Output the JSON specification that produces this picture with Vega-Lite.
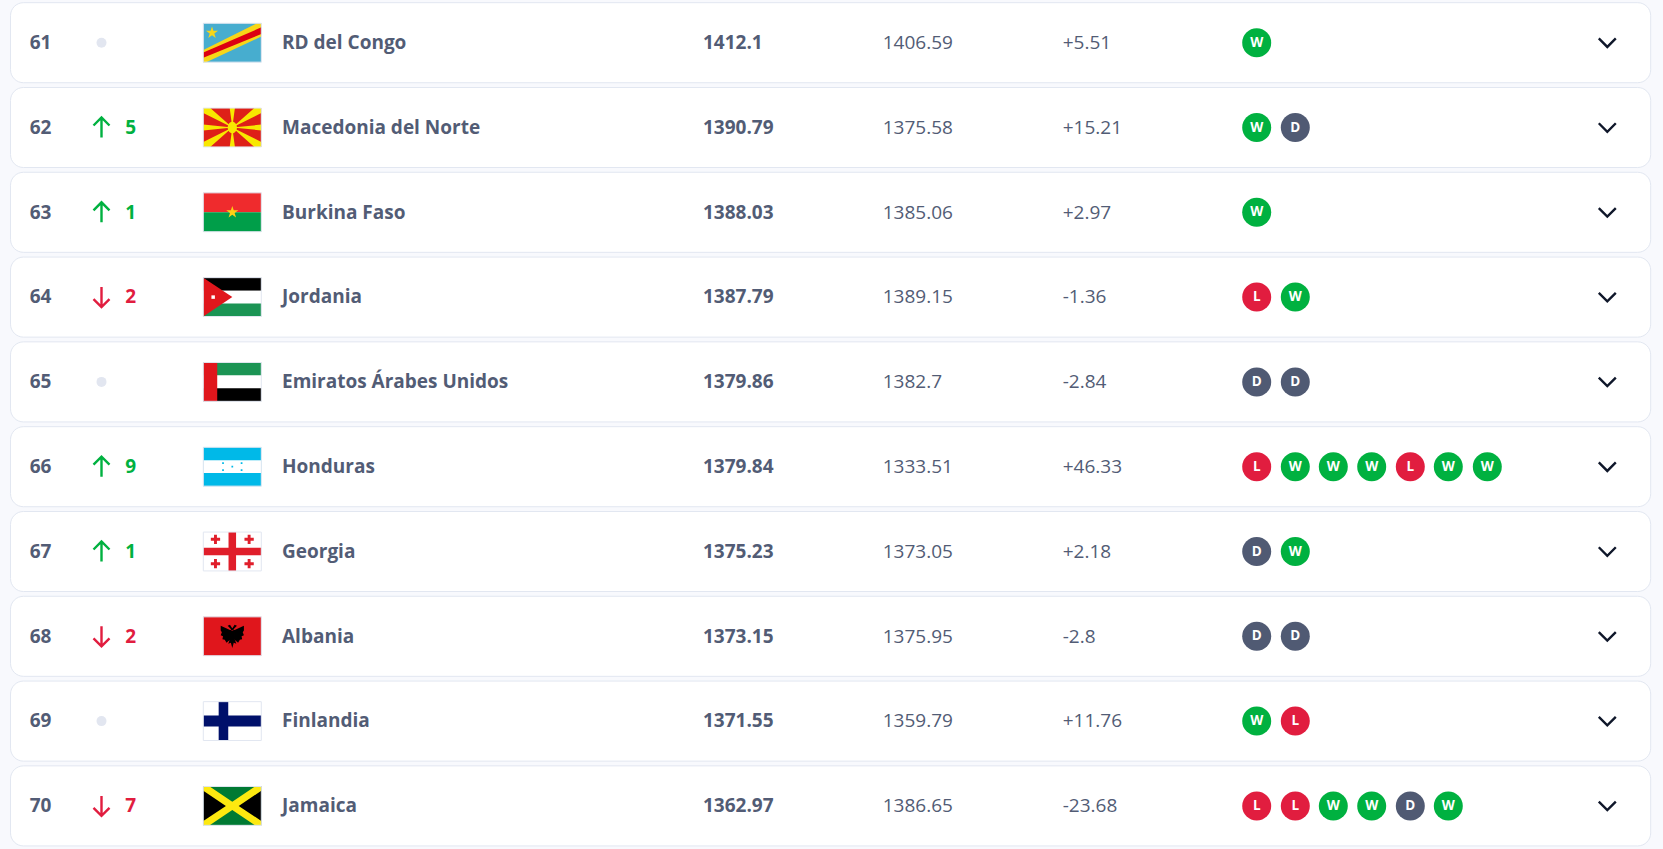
{
  "$schema": "https://vega.github.io/schema/vega-lite/v6.json",
  "description": "FIFA style ranking table, places 61 to 70",
  "width": 1663,
  "height": 849,
  "autosize": {"type": "fit", "contains": "padding"},
  "padding": 0,
  "background": "#f8f9fd",
  "config": {"view": {"stroke": null}, "text": {"font": "Open Sans"}},
  "datasets": {
    "teams": [
      {"rank": 61, "team": "RD del Congo", "total": "1412.1", "prev": "1406.59", "change": "+5.51", "move": 0, "direction": "same"},
      {"rank": 62, "team": "Macedonia del Norte", "total": "1390.79", "prev": "1375.58", "change": "+15.21", "move": 5, "direction": "up"},
      {"rank": 63, "team": "Burkina Faso", "total": "1388.03", "prev": "1385.06", "change": "+2.97", "move": 1, "direction": "up"},
      {"rank": 64, "team": "Jordania", "total": "1387.79", "prev": "1389.15", "change": "-1.36", "move": 2, "direction": "down"},
      {"rank": 65, "team": "Emiratos Árabes Unidos", "total": "1379.86", "prev": "1382.7", "change": "-2.84", "move": 0, "direction": "same"},
      {"rank": 66, "team": "Honduras", "total": "1379.84", "prev": "1333.51", "change": "+46.33", "move": 9, "direction": "up"},
      {"rank": 67, "team": "Georgia", "total": "1375.23", "prev": "1373.05", "change": "+2.18", "move": 1, "direction": "up"},
      {"rank": 68, "team": "Albania", "total": "1373.15", "prev": "1375.95", "change": "-2.8", "move": 2, "direction": "down"},
      {"rank": 69, "team": "Finlandia", "total": "1371.55", "prev": "1359.79", "change": "+11.76", "move": 0, "direction": "same"},
      {"rank": 70, "team": "Jamaica", "total": "1362.97", "prev": "1386.65", "change": "-23.68", "move": 7, "direction": "down"}
    ],
    "results": [
      {"rank": 61, "game": 1, "result": "W"},
      {"rank": 62, "game": 1, "result": "W"}, {"rank": 62, "game": 2, "result": "D"},
      {"rank": 63, "game": 1, "result": "W"},
      {"rank": 64, "game": 1, "result": "L"}, {"rank": 64, "game": 2, "result": "W"},
      {"rank": 65, "game": 1, "result": "D"}, {"rank": 65, "game": 2, "result": "D"},
      {"rank": 66, "game": 1, "result": "L"}, {"rank": 66, "game": 2, "result": "W"}, {"rank": 66, "game": 3, "result": "W"}, {"rank": 66, "game": 4, "result": "W"}, {"rank": 66, "game": 5, "result": "L"}, {"rank": 66, "game": 6, "result": "W"}, {"rank": 66, "game": 7, "result": "W"},
      {"rank": 67, "game": 1, "result": "D"}, {"rank": 67, "game": 2, "result": "W"},
      {"rank": 68, "game": 1, "result": "D"}, {"rank": 68, "game": 2, "result": "D"},
      {"rank": 69, "game": 1, "result": "W"}, {"rank": 69, "game": 2, "result": "L"},
      {"rank": 70, "game": 1, "result": "L"}, {"rank": 70, "game": 2, "result": "L"}, {"rank": 70, "game": 3, "result": "W"}, {"rank": 70, "game": 4, "result": "W"}, {"rank": 70, "game": 5, "result": "D"}, {"rank": 70, "game": 6, "result": "W"}
    ],
    "flagParts": [
      {"rank": 61, "part": "cod_field"}, {"rank": 61, "part": "cod_edge"}, {"rank": 61, "part": "cod_band"}, {"rank": 61, "part": "cod_star"},
      {"rank": 62, "part": "mkd_field"}, {"rank": 62, "part": "mkd_rays"}, {"rank": 62, "part": "mkd_disc"},
      {"rank": 63, "part": "bfa_top"}, {"rank": 63, "part": "bfa_bottom"}, {"rank": 63, "part": "bfa_star"},
      {"rank": 64, "part": "jor_black"}, {"rank": 64, "part": "jor_white"}, {"rank": 64, "part": "jor_green"}, {"rank": 64, "part": "jor_triangle"}, {"rank": 64, "part": "jor_star"},
      {"rank": 65, "part": "uae_green"}, {"rank": 65, "part": "uae_white"}, {"rank": 65, "part": "uae_black"}, {"rank": 65, "part": "uae_red"},
      {"rank": 66, "part": "hon_blue"}, {"rank": 66, "part": "hon_white"}, {"rank": 66, "part": "hon_stars"},
      {"rank": 67, "part": "geo_field"}, {"rank": 67, "part": "geo_crosses"},
      {"rank": 68, "part": "alb_field"}, {"rank": 68, "part": "alb_eagle"},
      {"rank": 69, "part": "fin_field"}, {"rank": 69, "part": "fin_cross"},
      {"rank": 70, "part": "jam_green"}, {"rank": 70, "part": "jam_black"}, {"rank": 70, "part": "jam_saltire"}
    ]
  },
  "encoding": {
    "y": {
      "field": "rank",
      "type": "ordinal",
      "axis": null,
      "scale": {"type": "band", "domain": [61, 62, 63, 64, 65, 66, 67, 68, 69, 70], "range": [0.3, 848.3], "paddingInner": 0.056, "paddingOuter": 0.028}
    }
  },
  "layer": [
    {
      "data": {"name": "teams"},
      "mark": {"type": "rect", "fill": "#ffffff", "stroke": "#e2e7f1", "strokeWidth": 1, "cornerRadius": 13},
      "encoding": {
        "x": {"datum": -8, "type": "quantitative", "axis": null, "scale": {"domain": [-8, -7, -6, -5, -4, -3, -2, -1, 0, 1, 2, 3, 4, 5, 6, 7, 8, 9], "range": [10.5, 29.7, 101.5, 125.2, 232.3, 282, 703, 882.7, 1062.7, 1256.7, 1295.3, 1333.3, 1371.7, 1410.3, 1448.3, 1487.3, 1607.3, 1650.7]}},
        "x2": {"datum": 9}
      }
    },
    {
      "data": {"name": "teams"},
      "mark": {"type": "text", "align": "left", "fontSize": 19, "fontWeight": 700, "color": "#525c75", "dy": 0.2},
      "encoding": {
        "x": {"datum": -7, "type": "quantitative", "axis": null, "scale": {"domain": [-8, -7, -6, -5, -4, -3, -2, -1, 0, 1, 2, 3, 4, 5, 6, 7, 8, 9], "range": [10.5, 29.7, 101.5, 125.2, 232.3, 282, 703, 882.7, 1062.7, 1256.7, 1295.3, 1333.3, 1371.7, 1410.3, 1448.3, 1487.3, 1607.3, 1650.7]}},
        "text": {"field": "rank", "type": "nominal"}
      }
    },
    {
      "data": {"name": "teams"},
      "transform": [{"filter": "datum.direction === 'same'"}],
      "mark": {"type": "point", "shape": "circle", "filled": true, "size": 100, "opacity": 1, "color": "#e2e6f0"},
      "encoding": {
        "x": {"datum": -6, "type": "quantitative", "axis": null, "scale": {"domain": [-8, -7, -6, -5, -4, -3, -2, -1, 0, 1, 2, 3, 4, 5, 6, 7, 8, 9], "range": [10.5, 29.7, 101.5, 125.2, 232.3, 282, 703, 882.7, 1062.7, 1256.7, 1295.3, 1333.3, 1371.7, 1410.3, 1448.3, 1487.3, 1607.3, 1650.7]}}
      }
    },
    {
      "data": {"name": "teams"},
      "transform": [{"filter": "datum.direction !== 'same'"}],
      "mark": {"type": "point", "filled": false, "size": 400, "opacity": 1, "strokeWidth": 2.4, "fill": null},
      "encoding": {
        "x": {"datum": -6, "type": "quantitative", "axis": null, "scale": {"domain": [-8, -7, -6, -5, -4, -3, -2, -1, 0, 1, 2, 3, 4, 5, 6, 7, 8, 9], "range": [10.5, 29.7, 101.5, 125.2, 232.3, 282, 703, 882.7, 1062.7, 1256.7, 1295.3, 1333.3, 1371.7, 1410.3, 1448.3, 1487.3, 1607.3, 1650.7]}},
        "shape": {"field": "direction", "type": "nominal", "legend": null, "scale": {"domain": ["up", "down"], "range": ["M0,-1V1M-.8,-.2L0,-1L.8,-.2", "M0,-1V1M-.8,.2L0,1L.8,.2"]}},
        "stroke": {"field": "direction", "type": "nominal", "legend": null, "scale": {"domain": ["up", "down"], "range": ["#00b140", "#e11d3f"]}}
      }
    },
    {
      "data": {"name": "teams"},
      "transform": [{"filter": "datum.direction !== 'same'"}],
      "mark": {"type": "text", "align": "left", "fontSize": 19, "fontWeight": 700, "dy": 0.2},
      "encoding": {
        "x": {"datum": -5, "type": "quantitative", "axis": null, "scale": {"domain": [-8, -7, -6, -5, -4, -3, -2, -1, 0, 1, 2, 3, 4, 5, 6, 7, 8, 9], "range": [10.5, 29.7, 101.5, 125.2, 232.3, 282, 703, 882.7, 1062.7, 1256.7, 1295.3, 1333.3, 1371.7, 1410.3, 1448.3, 1487.3, 1607.3, 1650.7]}},
        "text": {"field": "move", "type": "nominal"},
        "color": {"field": "direction", "type": "nominal", "legend": null, "scale": {"domain": ["up", "down"], "range": ["#00b140", "#e11d3f"]}}
      }
    },
    {
      "data": {"name": "flagParts"},
      "mark": {"type": "point", "filled": true, "size": 3364, "opacity": 1, "strokeWidth": 0},
      "encoding": {
        "x": {"datum": -4, "type": "quantitative", "axis": null, "scale": {"domain": [-8, -7, -6, -5, -4, -3, -2, -1, 0, 1, 2, 3, 4, 5, 6, 7, 8, 9], "range": [10.5, 29.7, 101.5, 125.2, 232.3, 282, 703, 882.7, 1062.7, 1256.7, 1295.3, 1333.3, 1371.7, 1410.3, 1448.3, 1487.3, 1607.3, 1650.7]}},
        "shape": {
          "field": "part",
          "type": "nominal",
          "legend": null,
          "scale": {
            "domain": ["cod_field", "cod_edge", "cod_band", "cod_star", "mkd_field", "mkd_rays", "mkd_disc", "bfa_top", "bfa_bottom", "bfa_star", "jor_black", "jor_white", "jor_green", "jor_triangle", "jor_star", "uae_green", "uae_white", "uae_black", "uae_red", "hon_blue", "hon_white", "hon_stars", "geo_field", "geo_crosses", "alb_field", "alb_eagle", "fin_field", "fin_cross", "jam_green", "jam_black", "jam_saltire"],
            "range": [
              "M-1,-.67H1V.67H-1Z",
              "M-1,.25L.85,-.67L1,-.67L1,-.21L-.9,.67L-1,.67Z",
              "M-1,.34L1,-.53L1,-.3L-1,.52Z",
              "M-.7,-.56L-.651,-.408L-.491,-.408L-.62,-.314L-.571,-.162L-.7,-.256L-.829,-.162L-.78,-.314L-.909,-.408L-.749,-.408Z",
              "M-1,-.67H1V.67H-1Z",
              "M-.09,-.67L.09,-.67L0,0ZM-.09,.67L.09,.67L0,0ZM-1,-.1L-1,.1L0,0ZM1,-.1L1,.1L0,0ZM-1,-.67L-.76,-.67L0,0L-1,-.5ZM1,-.67L.76,-.67L0,0L1,-.5ZM-1,.67L-.76,.67L0,0L-1,.5ZM1,.67L.76,.67L0,0L1,.5Z",
              "M-.16,0A.16,.2 0 1,1 .16,0A.16,.2 0 1,1 -.16,0Z",
              "M-1,-.67H1V0H-1Z",
              "M-1,0H1V.67H-1Z",
              "M0,-.22L.049,-.068L.209,-.068L.08,.026L.129,.178L0,.084L-.129,.178L-.08,.026L-.209,-.068L-.049,-.068Z",
              "M-1,-.67H1V-.22H-1Z",
              "M-1,-.22H1V.22H-1Z",
              "M-1,.22H1V.67H-1Z",
              "M-1,-.67L0,0L-1,.67Z",
              "M-.72,-.06H-.6V.06H-.72Z",
              "M-1,-.67H1V-.22H-1Z",
              "M-1,-.22H1V.22H-1Z",
              "M-1,.22H1V.67H-1Z",
              "M-1,-.67H-.52V.67H-1Z",
              "M-1,-.67H1V.67H-1Z",
              "M-1,-.22H1V.22H-1Z",
              "M-.03,-.03h.06v.06h-.06zM-.35,-.15h.06v.06h-.06zM.29,-.15h.06v.06h-.06zM-.35,.09h.06v.06h-.06zM.29,.09h.06v.06h-.06z",
              "M-1,-.67H1V.67H-1Z",
              "M-.13,-.67H.13V-.13H1V.13H.13V.67H-.13V.13H-1V-.13H-.13ZM-.63,-.58h.1v.11h.11v.1h-.11v.11h-.1v-.11h-.11v-.1h.11zM.53,-.58h.1v.11h.11v.1h-.11v.11h-.1v-.11h-.11v-.1h.11zM-.63,.26h.1v.11h.11v.1h-.11v.11h-.1v-.11h-.11v-.1h.11zM.53,.26h.1v.11h.11v.1h-.11v.11h-.1v-.11h-.11v-.1h.11z",
              "M-1,-.67H1V.67H-1Z",
              "M-.08,-.4L-.16,-.36L-.06,-.26L-.03,-.2L.03,-.2L.06,-.26L.16,-.36L.08,-.4L.02,-.3L0,-.28L-.02,-.3ZM-.4,-.36L-.08,-.22L-.08,.12L-.2,.22L-.26,.12L-.34,.1L-.32,0L-.4,-.04L-.36,-.14L-.4,-.2ZM.4,-.36L.08,-.22L.08,.12L.2,.22L.26,.12L.34,.1L.32,0L.4,-.04L.36,-.14L.4,-.2ZM-.08,.1L.08,.1L.14,.26L.05,.22L0,.4L-.05,.22L-.14,.26ZM-.08,-.22H.08V.12H-.08Z",
              "M-1,-.67H1V.67H-1Z",
              "M-.47,-.67H-.14V-.19H1V.19H-.14V.67H-.47V.19H-1V-.19H-.47Z",
              "M-1,-.67H1V.67H-1Z",
              "M-1,-.67L0,0L-1,.67ZM1,-.67L0,0L1,.67Z",
              "M-1,-.67L-.78,-.67L0,-.14L.78,-.67L1,-.67L1,-.52L.22,0L1,.52L1,.67L.78,.67L0,.14L-.78,.67L-1,.67L-1,.52L-.22,0L-1,-.52Z"
            ]
          }
        },
        "fill": {
          "field": "part",
          "type": "nominal",
          "legend": null,
          "scale": {
            "domain": ["cod_field", "cod_edge", "cod_band", "cod_star", "mkd_field", "mkd_rays", "mkd_disc", "bfa_top", "bfa_bottom", "bfa_star", "jor_black", "jor_white", "jor_green", "jor_triangle", "jor_star", "uae_green", "uae_white", "uae_black", "uae_red", "hon_blue", "hon_white", "hon_stars", "geo_field", "geo_crosses", "alb_field", "alb_eagle", "fin_field", "fin_cross", "jam_green", "jam_black", "jam_saltire"],
            "range": ["#47adcf", "#f7d618", "#dc0011", "#f7d618", "#de2018", "#f8e800", "#f8e800", "#ef2b2d", "#009e49", "#fcd116", "#000000", "#ffffff", "#1b9454", "#e0161c", "#ffffff", "#1b9454", "#ffffff", "#000000", "#e0161c", "#00b9e8", "#ffffff", "#00b9e8", "#ffffff", "#e01e2a", "#e0161c", "#000000", "#ffffff", "#00106a", "#007a33", "#000000", "#fde910"]
          }
        }
      }
    },
    {
      "data": {"name": "teams"},
      "mark": {"type": "point", "filled": false, "fill": null, "size": 3364, "opacity": 1, "stroke": "#e2e7f1", "strokeWidth": 1, "shape": "M-1,-.67H1V.67H-1Z"},
      "encoding": {
        "x": {"datum": -4, "type": "quantitative", "axis": null, "scale": {"domain": [-8, -7, -6, -5, -4, -3, -2, -1, 0, 1, 2, 3, 4, 5, 6, 7, 8, 9], "range": [10.5, 29.7, 101.5, 125.2, 232.3, 282, 703, 882.7, 1062.7, 1256.7, 1295.3, 1333.3, 1371.7, 1410.3, 1448.3, 1487.3, 1607.3, 1650.7]}}
      }
    },
    {
      "data": {"name": "teams"},
      "mark": {"type": "text", "align": "left", "fontSize": 19, "fontWeight": 700, "color": "#525c75", "dy": 0.2},
      "encoding": {
        "x": {"datum": -3, "type": "quantitative", "axis": null, "scale": {"domain": [-8, -7, -6, -5, -4, -3, -2, -1, 0, 1, 2, 3, 4, 5, 6, 7, 8, 9], "range": [10.5, 29.7, 101.5, 125.2, 232.3, 282, 703, 882.7, 1062.7, 1256.7, 1295.3, 1333.3, 1371.7, 1410.3, 1448.3, 1487.3, 1607.3, 1650.7]}},
        "text": {"field": "team", "type": "nominal"}
      }
    },
    {
      "data": {"name": "teams"},
      "mark": {"type": "text", "align": "left", "fontSize": 19, "fontWeight": 700, "color": "#525c75", "dy": 0.2},
      "encoding": {
        "x": {"datum": -2, "type": "quantitative", "axis": null, "scale": {"domain": [-8, -7, -6, -5, -4, -3, -2, -1, 0, 1, 2, 3, 4, 5, 6, 7, 8, 9], "range": [10.5, 29.7, 101.5, 125.2, 232.3, 282, 703, 882.7, 1062.7, 1256.7, 1295.3, 1333.3, 1371.7, 1410.3, 1448.3, 1487.3, 1607.3, 1650.7]}},
        "text": {"field": "total", "type": "nominal"}
      }
    },
    {
      "data": {"name": "teams"},
      "mark": {"type": "text", "align": "left", "fontSize": 19, "fontWeight": 400, "color": "#525c75", "dy": 0.2},
      "encoding": {
        "x": {"datum": -1, "type": "quantitative", "axis": null, "scale": {"domain": [-8, -7, -6, -5, -4, -3, -2, -1, 0, 1, 2, 3, 4, 5, 6, 7, 8, 9], "range": [10.5, 29.7, 101.5, 125.2, 232.3, 282, 703, 882.7, 1062.7, 1256.7, 1295.3, 1333.3, 1371.7, 1410.3, 1448.3, 1487.3, 1607.3, 1650.7]}},
        "text": {"field": "prev", "type": "nominal"}
      }
    },
    {
      "data": {"name": "teams"},
      "mark": {"type": "text", "align": "left", "fontSize": 19, "fontWeight": 400, "color": "#525c75", "dy": 0.2},
      "encoding": {
        "x": {"datum": 0, "type": "quantitative", "axis": null, "scale": {"domain": [-8, -7, -6, -5, -4, -3, -2, -1, 0, 1, 2, 3, 4, 5, 6, 7, 8, 9], "range": [10.5, 29.7, 101.5, 125.2, 232.3, 282, 703, 882.7, 1062.7, 1256.7, 1295.3, 1333.3, 1371.7, 1410.3, 1448.3, 1487.3, 1607.3, 1650.7]}},
        "text": {"field": "change", "type": "nominal"}
      }
    },
    {
      "data": {"name": "results"},
      "mark": {"type": "point", "shape": "circle", "filled": true, "size": 841, "opacity": 1, "strokeWidth": 0},
      "encoding": {
        "x": {"field": "game", "type": "quantitative", "axis": null, "scale": {"domain": [-8, -7, -6, -5, -4, -3, -2, -1, 0, 1, 2, 3, 4, 5, 6, 7, 8, 9], "range": [10.5, 29.7, 101.5, 125.2, 232.3, 282, 703, 882.7, 1062.7, 1256.7, 1295.3, 1333.3, 1371.7, 1410.3, 1448.3, 1487.3, 1607.3, 1650.7]}},
        "color": {"field": "result", "type": "nominal", "legend": null, "scale": {"domain": ["W", "D", "L"], "range": ["#00b140", "#505a73", "#e11d3f"]}}
      }
    },
    {
      "data": {"name": "results"},
      "mark": {"type": "text", "fontSize": 13.5, "fontWeight": 700, "color": "#ffffff"},
      "encoding": {
        "x": {"field": "game", "type": "quantitative", "axis": null, "scale": {"domain": [-8, -7, -6, -5, -4, -3, -2, -1, 0, 1, 2, 3, 4, 5, 6, 7, 8, 9], "range": [10.5, 29.7, 101.5, 125.2, 232.3, 282, 703, 882.7, 1062.7, 1256.7, 1295.3, 1333.3, 1371.7, 1410.3, 1448.3, 1487.3, 1607.3, 1650.7]}},
        "text": {"field": "result", "type": "nominal"}
      }
    },
    {
      "data": {"name": "teams"},
      "mark": {"type": "point", "filled": false, "fill": null, "size": 289, "opacity": 1, "stroke": "#0f172a", "strokeWidth": 2.4, "shape": "M-1,-.5L0,.5L1,-.5"},
      "encoding": {
        "x": {"datum": 8, "type": "quantitative", "axis": null, "scale": {"domain": [-8, -7, -6, -5, -4, -3, -2, -1, 0, 1, 2, 3, 4, 5, 6, 7, 8, 9], "range": [10.5, 29.7, 101.5, 125.2, 232.3, 282, 703, 882.7, 1062.7, 1256.7, 1295.3, 1333.3, 1371.7, 1410.3, 1448.3, 1487.3, 1607.3, 1650.7]}}
      }
    }
  ],
  "resolve": {"scale": {"color": "independent", "fill": "independent", "stroke": "independent", "shape": "independent"}}
}
